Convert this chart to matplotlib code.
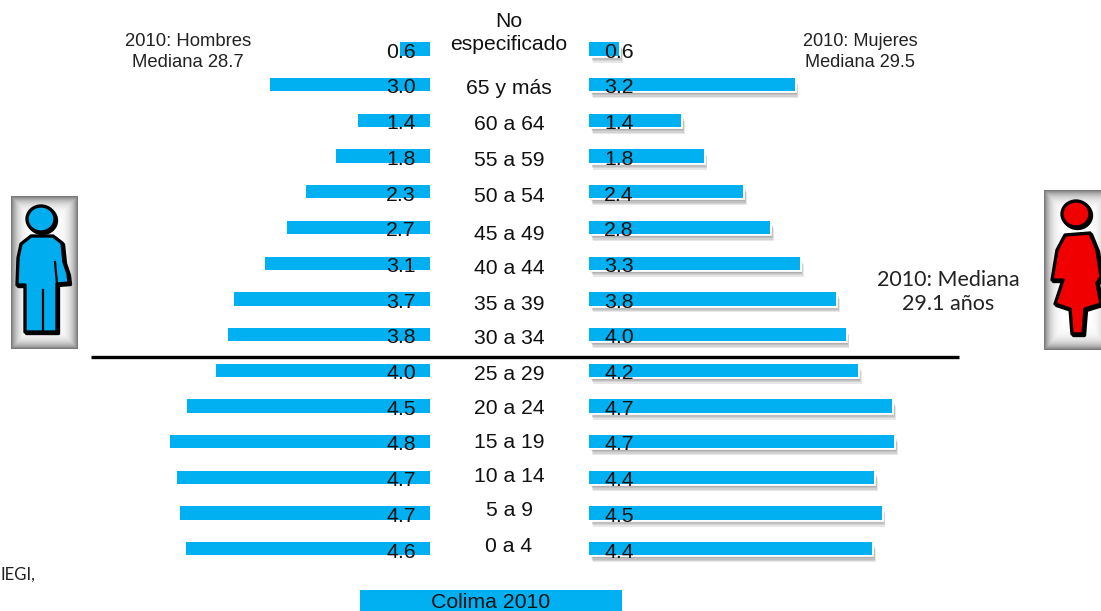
import numpy as np
import matplotlib
matplotlib.use('Agg')
import matplotlib.pyplot as plt
import matplotlib.patheffects as pe
from matplotlib.patches import Polygon, Ellipse, Rectangle

plt.rcParams['font.family'] = ['Liberation Sans', 'DejaVu Sans']

# datos
grupos = ['No\nespecificado', '65 y más', '60 a 64', '55 a 59', '50 a 54', '45 a 49', '40 a 44', '35 a 39',
          '30 a 34', '25 a 29', '20 a 24', '15 a 19', '10 a 14', '5 a 9', '0 a 4']
# etiquetas impresas
etiq_hombres = [0.6, 3.0, 1.4, 1.8, 2.3, 2.7, 3.1, 3.7, 3.8, 4.0, 4.5, 4.8, 4.7, 4.7, 4.6]
etiq_mujeres = [0.6, 3.2, 1.4, 1.8, 2.4, 2.8, 3.3, 3.8, 4.0, 4.2, 4.7, 4.7, 4.4, 4.5, 4.4]
# largo de las barras
hombres = [0.56, 2.96, 1.33, 1.74, 2.30, 2.65, 3.06, 3.63, 3.74, 3.96, 4.50, 4.81, 4.69, 4.63, 4.52]
mujeres = [0.47, 3.19, 1.43, 1.78, 2.39, 2.81, 3.27, 3.83, 3.98, 4.17, 4.70, 4.73, 4.42, 4.54, 4.39]

W, H = 1101, 611
AZUL = '#00B0F0'
fig = plt.figure(figsize=(W / 100, H / 100), dpi=100)

# escala: px por unidad y fila
px_h, px_m = 54.0, 64.5
y0, paso = 49.0, 35.7
ylim = ((H - y0) / paso, -y0 / paso)
pos = np.arange(len(grupos))

ax_h = fig.add_axes([0, 0, 430 / W, 1])
ax_h.set_xlim(430 / px_h, 0)
ax_h.set_ylim(*ylim)
ax_h.barh(pos, hombres, height=0.37, color=AZUL)
ax_h.axis('off')

ax_m = fig.add_axes([589 / W, 0, (W - 589) / W, 1])
ax_m.set_xlim(0, (W - 589) / px_m)
ax_m.set_ylim(*ylim)
barras = ax_m.barh(pos, mujeres, height=0.37, color=AZUL)
# sombra suave con varias capas
sombra = [pe.SimplePatchShadow(offset=(1 + k * 0.4, -1 - k), shadow_rgbFace='#555555', alpha=0.14) for k in range(5)]
for b in barras:
    b.set_path_effects(sombra + [pe.Stroke(linewidth=2, foreground='white'), pe.Normal()])
ax_m.axis('off')

for i in pos:
    ax_h.text(29 / px_h, i + 0.09, f'{etiq_hombres[i]:.1f}', ha='center', va='center', fontsize=15.3, color='#111111')
    ax_m.text(30 / px_m, i + 0.09, f'{etiq_mujeres[i]:.1f}', ha='center', va='center', fontsize=15.3, color='#111111')

# capa en pixeles para textos y figuras
ov = fig.add_axes([0, 0, 1, 1])
ov.set_xlim(0, W)
ov.set_ylim(H, 0)
ov.axis('off')
ov.patch.set_alpha(0)

cat_y = [33, 89, 124, 160, 197, 234, 269, 304, 339, 374, 408, 442, 476, 511, 547]
for g, y in zip(grupos, cat_y):
    ov.text(509, y, g, ha='center', va='center', fontsize=15.2, color='#111111', linespacing=1.25)

ov.text(188, 52, '2010: Hombres\nMediana 28.7', ha='center', va='center', fontsize=13.3, color='#222222', linespacing=1.3)
ov.text(860, 52, '2010: Mujeres\nMediana 29.5', ha='center', va='center', fontsize=13.1, color='#222222', linespacing=1.3)
ov.text(948, 292, '2010: Mediana\n29.1 años', ha='center', va='center', fontsize=15.5, color='#222222',
        family=['Lato', 'DejaVu Sans'], linespacing=1.25)
ov.text(1, 575, 'IEGI,', ha='left', va='center', fontsize=12, color='#222222', family=['Lato', 'DejaVu Sans'])

ov.plot([91, 959], [357, 357], color='black', lw=2.4, solid_capstyle='butt')

ov.add_patch(Rectangle((360, 590), 262, 21, color=AZUL, lw=0))
ov.text(491, 603, 'Colima 2010', ha='center', va='center', fontsize=15.3, color='#111111')


def marco(x0, x1, y0_, y1):
    # recuadro gris con centro blanco
    xs = np.linspace(-1, 1, 80)
    ys = np.linspace(-1, 1, 160)
    gx, gy = np.meshgrid(xs, ys)
    borde = np.maximum(np.abs(gx) ** 5, np.abs(gy) ** 12)
    ov.imshow(1 - 0.52 * borde, cmap='gray', vmin=0, vmax=1, extent=(x0, x1, y1, y0_), aspect='auto', zorder=2)


def figura(cuerpo, cabeza, radios, color, extra=None):
    # sombra negra abajo a la derecha, luego la figura
    for dx, z, fc in [(1.5, 3, 'black'), (0, 4, color)]:
        ov.add_patch(Polygon(np.array(cuerpo) + dx, closed=True, fc=fc, ec='black', lw=2.4, joinstyle='round', zorder=z))
        ov.add_patch(Ellipse((cabeza[0] + dx, cabeza[1] + dx), radios[0] * 2, radios[1] * 2, fc=fc, ec='black',
                             lw=2.4, zorder=z))
    if extra:
        for x, y in extra:
            ov.plot(x, y, color='black', lw=1.6, zorder=5)


marco(11, 78, 196, 349)
hombre = [(31, 236), (53, 236), (62, 243), (64, 262), (68, 274), (69, 283), (57, 284), (57, 292), (57, 332),
          (25, 332), (25, 292), (25, 285), (17, 285), (18, 258), (21, 244)]
figura(hombre, (41, 219), (14, 13), '#00AEEF', [([42.5, 42.5], [290, 331]), ([55, 57], [262, 284])])

marco(1044, 1110, 190, 350)
mujer = [(1065, 235), (1090, 233), (1097, 250), (1101, 277), (1097, 283), (1101, 304), (1085, 309), (1083, 334),
         (1072, 334), (1070, 309), (1055, 304), (1063, 280), (1052, 280), (1057, 250)]
figura(mujer, (1076, 214), (14, 13), '#F00000')

ov.set_xlim(0, W)
ov.set_ylim(H, 0)

fig.savefig('out.png', dpi=100)
